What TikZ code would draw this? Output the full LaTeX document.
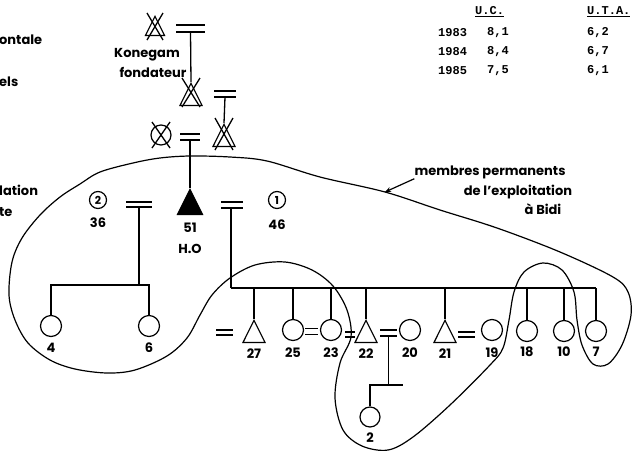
\documentclass[tikz,border=0pt]{standalone}
\usepackage{fontspec}
\setmainfont{Poppins}
\newfontfamily\tabfont{Liberation Mono}
\usetikzlibrary{calc}
\usetikzlibrary{positioning}
\usetikzlibrary{shapes.geometric}
\usetikzlibrary{arrows.meta}

\tikzset{
  male/.style={isosceles triangle, isosceles triangle apex angle=53,
    shape border rotate=90, draw, line width=1.2pt, minimum width=22pt,
    minimum height=22pt, inner sep=0pt, anchor=apex},
  female/.style={circle, draw, line width=1.2pt, minimum size=21pt, inner sep=0pt},
  rank/.style={circle, draw, line width=1.2pt, minimum size=17pt, inner sep=0pt,
    font=\bfseries\fontsize{11}{13}\selectfont},
  lbl/.style={font=\bfseries\fontsize{13}{15}\selectfont, inner sep=0pt},
  tab/.style={font=\tabfont\bfseries\fontsize{12}{14}\selectfont, inner sep=0pt, anchor=west},
  kin/.style={line width=1.3pt},
  bar/.style={line width=1.2pt}
}

\begin{document}
\begin{tikzpicture}[x=1pt,y=-1pt]
            \useasboundingbox (0,0) rectangle (634,453);

            % ancestors
            \node[male, minimum width=19pt, minimum height=19pt] (g1) at (155,15) {};
            \node[male] (g2) at (191,82) {};
            \node[male] (g3) at (224,123) {};
            \node[female, minimum size=20pt] (g4) at (161,135) {};
            \node[male, fill=black, minimum width=25pt, minimum height=24pt] (ego) at (190,188) {};

            \coordinate (m1) at (190.5,28.5);
            \coordinate (m2) at (225,94);
            \coordinate (m3) at (190,137);
            \coordinate (m4) at (139,204.5);
            \coordinate (m5) at (232,205);

            \draw[bar] ($(m1)+(-14.5,-3.5)$) -- ($(m1)+(14.5,-3.5)$);
            \draw[bar] ($(m1)+(-14.5,3.5)$) -- ($(m1)+(14.5,3.5)$);
            \draw[bar] ($(m2)+(-11,-3)$) -- ($(m2)+(11,-3)$);
            \draw[bar] ($(m2)+(-11,3)$) -- ($(m2)+(11,3)$);
            \draw[bar] ($(m3)+(-10,-3)$) -- ($(m3)+(10,-3)$);
            \draw[bar] ($(m3)+(-10,3)$) -- ($(m3)+(10,3)$);
            \draw[bar] ($(m4)+(-13,-2.5)$) -- ($(m4)+(13,-2.5)$);
            \draw[bar] ($(m4)+(-13,2.5)$) -- ($(m4)+(13,2.5)$);
            \draw[bar] ($(m5)+(-11,-3)$) -- ($(m5)+(11,-3)$);
            \draw[bar] ($(m5)+(-11,3)$) -- ($(m5)+(11,3)$);

            \draw[kin] ($(m1)+(0,3.5)$) -- (g2.apex);
            \draw[kin] ($(m2)+(0,3)$) -- (g3.apex);
            \draw[kin] ($(m3)+(0,3)$) -- (ego.apex);

            % deceased
            \draw[kin] ($(g1.apex)+(-8,-2)$) -- ($(g1.apex)+(8,25)$);
            \draw[kin] ($(g1.apex)+(8,-2)$) -- ($(g1.apex)+(-8,25)$);
            \draw[kin] ($(g2.apex)+(-9,-4)$) -- ($(g2.apex)+(9,25)$);
            \draw[kin] ($(g2.apex)+(9,-4)$) -- ($(g2.apex)+(-9,25)$);
            \draw[kin] ($(g3.apex)+(-9,-5)$) -- ($(g3.apex)+(9,27)$);
            \draw[kin] ($(g3.apex)+(9,-5)$) -- ($(g3.apex)+(-9,27)$);
            \draw[kin] ($(g4)+(-9,-13)$) -- ($(g4)+(9,13)$);
            \draw[kin] ($(g4)+(9,-13)$) -- ($(g4)+(-9,13)$);

            \node[lbl] (kon) at (147,55) {Konegam};
            \node[lbl] (fon) at (153,72) {fondateur};

            % wives of H.O
            \node[rank] (w2) at (98,200) {2};
            \node[lbl, below=8pt of w2] (a36) {36};
            \node[rank] (w1) at (277,200) {1};
            \node[lbl, below=11pt of w1] (a46) {46};
            \node[lbl, below=8pt of ego.south] (a51) {51};
            \node[lbl, below=11pt of a51] (ho) {H.O};

            % children of wife 2
            \node[female] (c4) at (51,326) {};
            \node[female] (c6) at (149,326) {};
            \coordinate (s2) at (139,285);
            \draw[kin] ($(m4)+(0,2.5)$) -- (s2);
            \draw[kin] (c4.north) |- (s2) -| (c6.north);
            \node[lbl, below=6pt of c4] (l4) {4};
            \node[lbl, below=6pt of c6] (l6) {6};

            % children of wife 1
            \node[male] (c27) at (254,319) {};
            \node[female] (c25) at (293,330) {};
            \node[female] (c23) at (331,330) {};
            \node[male] (c22) at (366,319) {};
            \node[female] (c20) at (410,330) {};
            \node[male] (c21) at (445,319) {};
            \node[female] (c19) at (492,330) {};
            \node[female] (c18) at (527,331) {};
            \node[female] (c10) at (564,331) {};
            \node[female] (c7) at (596,331) {};

            \coordinate (s1) at (231,288);
            \draw[kin] ($(m5)+(-1,3)$) -- (s1);
            \draw[kin] (s1) -- (s1 -| c7);
            \draw[kin] (s1 -| c27) -- (c27.apex);
            \draw[kin] (s1 -| c25) -- (c25.north);
            \draw[kin] (s1 -| c23) -- (c23.north);
            \draw[kin] (s1 -| c22) -- (c22.apex);
            \draw[kin] (s1 -| c21) -- (c21.apex);
            \draw[kin] (s1 -| c18) -- (c18.north);
            \draw[kin] (s1 -| c10) -- (c10.north);
            \draw[kin] (s1 -| c7) -- (c7.north);

            \coordinate (e27) at (224.5,332.5);
            \coordinate (e25) at (311.5,331.5);
            \coordinate (e23) at (350,334.5);
            \coordinate (e22) at (388.5,333);
            \coordinate (e21) at (466.5,334.5);
            \draw[bar] ($(e27)+(-8.5,-2.5)$) -- ($(e27)+(8.5,-2.5)$);
            \draw[bar] ($(e27)+(-8.5,2.5)$) -- ($(e27)+(8.5,2.5)$);
            \draw[bar] ($(e25)+(-6.5,-3)$) -- ($(e25)+(6.5,-3)$);
            \draw[bar] ($(e25)+(-6.5,3)$) -- ($(e25)+(6.5,3)$);
            \draw[bar] ($(e23)+(-5,-2.5)$) -- ($(e23)+(5,-2.5)$);
            \draw[bar] ($(e23)+(-5,2.5)$) -- ($(e23)+(5,2.5)$);
            \draw[bar] ($(e22)+(-8.5,-3)$) -- ($(e22)+(8.5,-3)$);
            \draw[bar] ($(e22)+(-8.5,3)$) -- ($(e22)+(8.5,3)$);
            \draw[bar] ($(e21)+(-8.5,-2.5)$) -- ($(e21)+(8.5,-2.5)$);
            \draw[bar] ($(e21)+(-8.5,2.5)$) -- ($(e21)+(8.5,2.5)$);

            \node[lbl, below=6pt of c27.south] (l27) {27};
            \node[lbl, below=6pt of c25] (l25) {25};
            \node[lbl, below=6pt of c23] (l23) {23};
            \node[lbl, below=6pt of c22.south] (l22) {22};
            \node[lbl, below=6pt of c20] (l20) {20};
            \node[lbl, below=6pt of c21.south] (l21) {21};
            \node[lbl, below=6pt of c19] (l19) {19};
            \node[lbl, below=5pt of c18] (l18) {18};
            \node[lbl, below=5pt of c10] (l10) {10};
            \node[lbl, below=5pt of c7] (l7) {7};

            % grandchild
            \node[female, minimum size=20pt] (c2) at (370,417) {};
            \coordinate (k22) at (403,385);
            \draw[kin] ($(e22)+(0,3)$) -- (e22 |- k22);
            \draw[kin] (c2.north) |- (k22);
            \node[lbl, below=5pt of c2] (l2) {2};

            % permanent members
            \draw[line width=1.2pt] plot[smooth cycle, tension=0.55] coordinates {
              (320,177) (385,192) (440,210) (497,228) (560,252) (613,277)
              (628,292) (631,315) (622,345) (608,364) (593,364) (582,345)
              (577,320) (574,292) (562,270) (543,263) (524,272) (514,292)
              (509,320) (503,348) (490,365) (450,405) (413,437) (388,450)
              (362,446) (343,430) (335,398) (340,363) (351,337) (347,310)
              (333,286) (312,270) (285,262) (255,265) (230,278) (212,295)
              (200,315) (187,338) (167,356) (135,370) (107,373) (75,369)
              (50,360) (28,343) (15,320) (9,295) (12,262) (22,238) (40,215)
              (60,197) (80,184) (100,172) (133,163) (160,158) (190,156)
              (230,157) (267,161)};
            \coordinate (tip) at (385,192);
            \node[lbl] (mb1) at (490,172) {membres permanents};
            \node[lbl] (mb2) at (518,192) {de l'exploitation};
            \node[lbl] (mb3) at (543,209) {à Bidi};
            \draw[line width=1.2pt, -{Stealth[length=6pt,width=5pt]}] (mb1.south west) -- (tip);

            % table
            \node[tab] (huc) at (475,12) {\underline{U.C.}};
            \node[tab] (huta) at (587,12) {\underline{U.T.A.}};
            \node[tab] (y83) at (438,33) {1983};
            \node[tab] (uc83) at (487,33) {8,1};
            \node[tab] (uta83) at (587,33) {6,2};
            \node[tab] (y84) at (438,52) {1984};
            \node[tab] (uc84) at (487,52) {8,4};
            \node[tab] (uta84) at (587,52) {6,7};
            \node[tab] (y85) at (438,71) {1985};
            \node[tab] (uc85) at (487,71) {7,5};
            \node[tab] (uta85) at (587,71) {6,1};

            % cut at the left edge
            \node[lbl, anchor=west] (t1) at (-1,40) {ontale};
            \node[lbl, anchor=west] (t2) at (-1,82) {els};
            \node[lbl, anchor=west] (t3) at (-1,190) {lation};
            \node[lbl, anchor=west] (t4) at (-1,212) {te};
        \end{tikzpicture}
\end{document}
